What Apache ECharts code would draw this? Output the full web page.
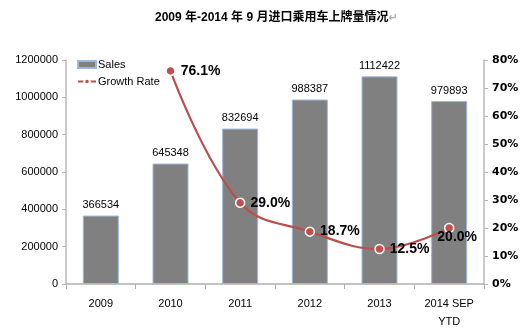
<!DOCTYPE html>
<html>
<head>
<meta charset="utf-8">
<script src="https://cdn.jsdelivr.net/npm/echarts@6/dist/echarts.min.js"></script>
<style>
html,body{margin:0;padding:0;background:#fff;}
#chart{width:526px;height:331px;}
</style>
</head>
<body>
<div id="chart"></div>
<script>
const categories = ['2009', '2010', '2011', '2012', '2013', '2014 SEP\nYTD'];
const sales = [366534, 645348, 832694, 988387, 1112422, 979893];
const growthRate = [null, 76.1, 29.0, 18.7, 12.5, 20.0];
const leftTicks = [0, 200000, 400000, 600000, 800000, 1000000, 1200000];
const rightTicks = [0, 10, 20, 30, 40, 50, 60, 70, 80];

const FONT = '"Liberation Sans", Arial, sans-serif';
const chart = echarts.init(document.getElementById('chart'), null, {renderer: 'canvas'});

const lineData = growthRate.map((v, i) => {
  if (v === null) return null;
  const item = {value: v};
  if (i === growthRate.length - 1) {
    item.label = {position: 'bottom', offset: [8, -8]};
  }
  return item;
});

chart.setOption({
  animation: false,
  title: {
    text: '{t|2009 年-2014 年 9 月进口乘用车上牌量情况}{m|↵}',
    left: 150,
    top: 7,
    textStyle: {
      rich: {
        t: {fontSize: 12, fontWeight: 'bold', color: '#000', fontFamily: '"Liberation Sans", "Noto Sans CJK SC", sans-serif'},
        m: {fontSize: 11, color: '#aaa', fontFamily: '"DejaVu Sans", sans-serif'}
      }
    }
  },
  legend: {
    orient: 'vertical',
    left: 72,
    top: 54,
    itemWidth: 18,
    itemHeight: 7,
    itemGap: 6,
    textStyle: {fontSize: 11, color: '#000', fontFamily: FONT, padding: [0, 0, 0, -3]},
    data: [
      {name: 'Sales', icon: 'rect'},
      {name: 'Growth Rate'}
    ]
  },
  grid: {left: 66, right: 42, top: 60, bottom: 47, containLabel: false},
  xAxis: {
    type: 'category',
    data: categories,
    axisLine: {lineStyle: {color: '#b0b0b0', width: 1.5}},
    axisTick: {show: true, alignWithLabel: false, length: 5, lineStyle: {color: '#b0b0b0'}},
    axisLabel: {fontSize: 11, color: '#000', fontFamily: FONT, margin: 11, lineHeight: 18, interval: 0}
  },
  yAxis: [
    {
      type: 'value',
      min: 0,
      max: 1200000,
      interval: 200000,
      splitLine: {show: false},
      axisLine: {show: true, lineStyle: {color: '#b8b8b8', width: 1.5}},
      axisTick: {show: true, length: 4, lineStyle: {color: '#b8b8b8'}},
      axisLabel: {fontSize: 11, color: '#000', fontFamily: FONT, margin: 8,
        formatter: v => leftTicks.includes(v) ? String(v) : ''}
    },
    {
      type: 'value',
      min: 0,
      max: 80,
      interval: 10,
      splitLine: {show: false},
      axisLine: {show: true, lineStyle: {color: '#b8b8b8', width: 1.5}},
      axisTick: {show: true, length: 4, lineStyle: {color: '#b8b8b8'}},
      axisLabel: {fontSize: 11, fontWeight: 'bold', color: '#000', fontFamily: '"DejaVu Sans", sans-serif', margin: 8,
        formatter: v => rightTicks.includes(v) ? v + '%' : ''}
    }
  ],
  series: [
    {
      name: 'Sales',
      type: 'bar',
      data: sales,
      barWidth: 36,
      itemStyle: {color: '#808080', borderColor: '#9db8dc', borderWidth: 1},
      label: {show: true, position: 'top', distance: 5, fontSize: 11, color: '#000', fontFamily: FONT}
    },
    {
      name: 'Growth Rate',
      type: 'line',
      yAxisIndex: 1,
      data: lineData,
      smooth: 0.4,
      connectNulls: false,
      symbol: 'circle',
      symbolSize: 9,
      lineStyle: {color: '#bd4d4a', width: 2.2},
      itemStyle: {color: '#c0504d', borderColor: '#fff', borderWidth: 1.5},
      label: {
        show: true,
        position: 'right',
        distance: 5,
        fontSize: 14,
        fontWeight: 'bold',
        color: '#000',
        fontFamily: FONT,
        formatter: p => p.value.toFixed(1) + '%'
      }
    }
  ]
});
</script>
</body>
</html>
